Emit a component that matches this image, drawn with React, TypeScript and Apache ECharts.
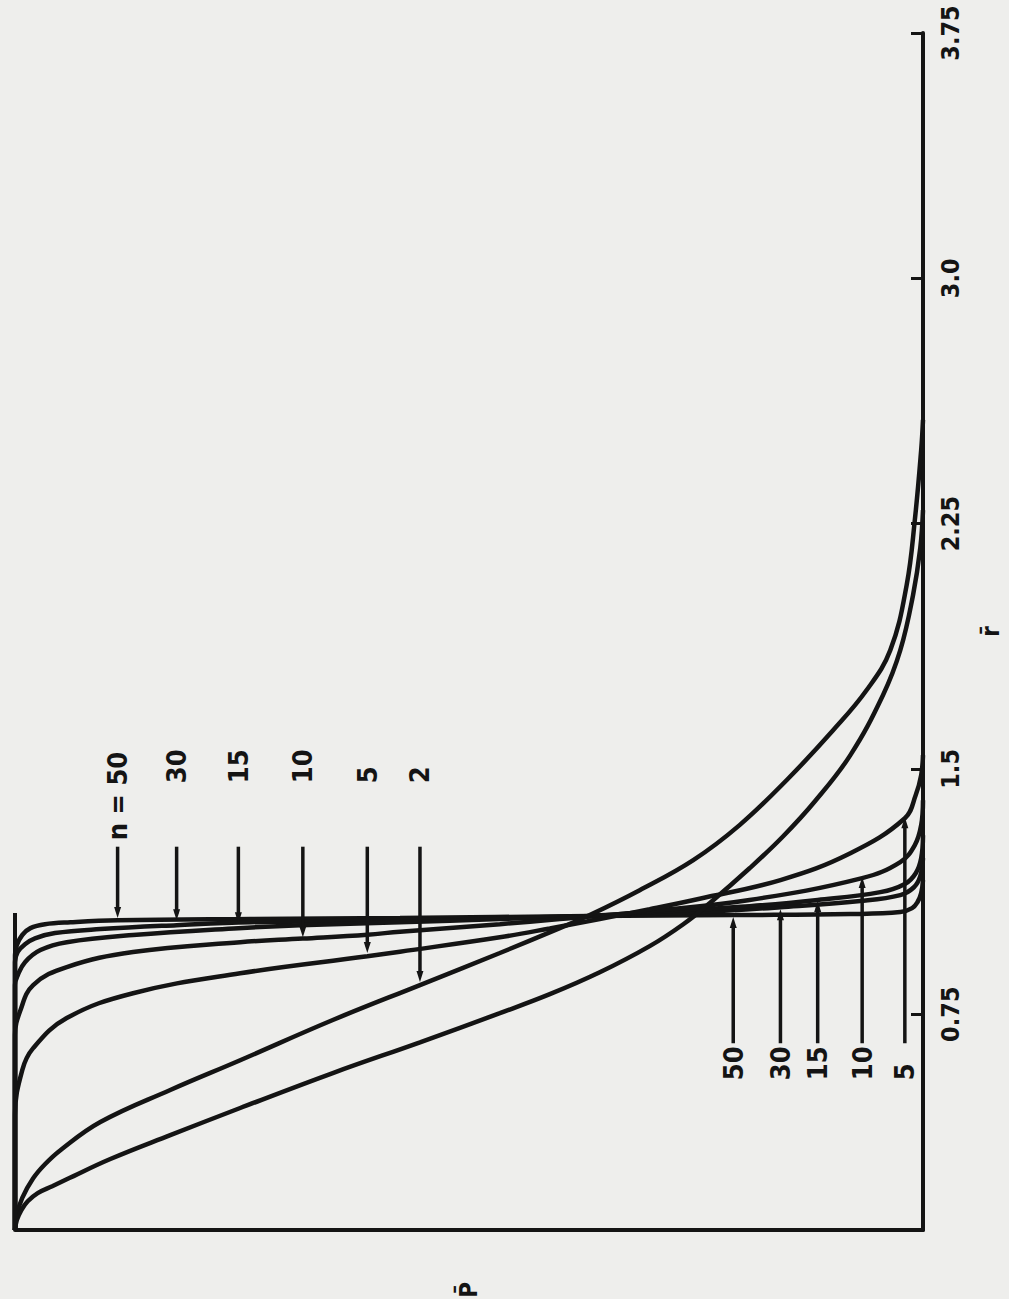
import React, { useEffect, useRef } from "react";
import * as echarts from "echarts";

// ---- axis definitions (r̄ vertical on the right, P̄ horizontal, P̄ = 1 at the left) ----
const rMin = 0.09;
const rMax = 3.75;
const rTicks = [0.75, 1.5, 2.25, 3.0, 3.75];
const rTickLabels = ["0.75", "1.5", "2.25", "3.0", "3.75"];

// ---- curves: [P̄, r̄] pairs ----
const curveN50 = [
  [1, 0.09], [1, 0.93], [0.998, 0.961], [0.992, 0.992], [0.983, 1.013], [0.967, 1.025],
  [0.939, 1.031], [0.887, 1.037], [0.741, 1.041], [0.576, 1.044], [0.367, 1.05],
  [0.207, 1.053], [0.08, 1.056], [0.025, 1.062], [0.012, 1.074], [0.006, 1.093],
  [0.002, 1.12], [0, 1.16],
];
const curveN30 = [
  [1, 0.09], [1, 0.909], [0.997, 0.94], [0.989, 0.964], [0.978, 0.982], [0.956, 0.998],
  [0.906, 1.01], [0.822, 1.022], [0.741, 1.031], [0.576, 1.037], [0.367, 1.05],
  [0.246, 1.062], [0.157, 1.077], [0.069, 1.096], [0.025, 1.114], [0.01, 1.138],
  [0.003, 1.172], [0, 1.227],
];
const curveN15 = [
  [1, 0.09], [1, 0.839], [0.997, 0.869], [0.989, 0.909], [0.972, 0.946], [0.943, 0.97],
  [0.87, 0.992], [0.754, 1.013], [0.686, 1.022], [0.576, 1.031], [0.466, 1.041],
  [0.367, 1.05], [0.301, 1.062], [0.191, 1.08], [0.116, 1.099], [0.047, 1.123],
  [0.02, 1.148], [0.008, 1.181], [0.002, 1.227], [0, 1.297],
];
const curveN10 = [
  [1, 0.09], [1, 0.686], [0.994, 0.762], [0.98, 0.839], [0.943, 0.894], [0.87, 0.94],
  [0.752, 0.97], [0.683, 0.981], [0.612, 0.993], [0.576, 1.002], [0.466, 1.025],
  [0.4, 1.041], [0.301, 1.065], [0.191, 1.099], [0.067, 1.166], [0.025, 1.215],
  [0.009, 1.267], [0.002, 1.328], [0, 1.404],
];
const curveN5 = [
  [1, 0.09], [1, 0.441], [0.992, 0.579], [0.98, 0.646], [0.943, 0.738], [0.87, 0.814],
  [0.752, 0.875], [0.612, 0.927], [0.576, 0.941], [0.466, 0.985], [0.411, 1.012],
  [0.356, 1.041], [0.301, 1.071], [0.246, 1.103], [0.157, 1.16], [0.08, 1.242],
  [0.02, 1.349], [0.008, 1.42], [0.002, 1.481], [0, 1.542],
];
const curveN2 = [
  [1, 0.09], [0.998, 0.136], [0.992, 0.188], [0.98, 0.248], [0.967, 0.291], [0.95, 0.334],
  [0.906, 0.42], [0.829, 0.518], [0.752, 0.609], [0.65, 0.732], [0.554, 0.839],
  [0.466, 0.937], [0.4, 1.013], [0.367, 1.053], [0.312, 1.129], [0.253, 1.221],
  [0.202, 1.328], [0.15, 1.466], [0.099, 1.618], [0.062, 1.741], [0.036, 1.863],
  [0.018, 2.062], [0.009, 2.261], [0.002, 2.475], [0, 2.567],
];
const curveUnlabeled = [
  [1, 0.09], [0.998, 0.12], [0.993, 0.151], [0.986, 0.178], [0.975, 0.203], [0.959, 0.224],
  [0.943, 0.245], [0.895, 0.307], [0.829, 0.38], [0.752, 0.463], [0.65, 0.57], [0.554, 0.664],
  [0.466, 0.753], [0.411, 0.811], [0.356, 0.878], [0.301, 0.958], [0.264, 1.025],
  [0.235, 1.089], [0.191, 1.196], [0.154, 1.294], [0.119, 1.401], [0.08, 1.542],
  [0.044, 1.726], [0.025, 1.863], [0.011, 2.031], [0.003, 2.175], [0, 2.291],
];
const frameStub = [[1, 0.09], [1, 1.059]];

// ---- annotations: labels with arrows pointing at curves ----
const topLabels = ["n = 50", "30", "15", "10", "5", "2"];
const topArrowP = [0.887, 0.822, 0.754, 0.683, 0.612, 0.554];
const topArrowFromR = [1.262, 1.262, 1.262, 1.262, 1.262, 1.262];
const topArrowToR = [1.044, 1.037, 1.028, 0.985, 0.937, 0.848];
const topLabelStartR = [1.282, 1.456, 1.456, 1.456, 1.456, 1.456];

const bottomLabels = ["50", "30", "15", "10", "5"];
const bottomArrowP = [0.209, 0.157, 0.116, 0.067, 0.02];
const bottomArrowFromR = [0.661, 0.661, 0.661, 0.661, 0.661];
const bottomArrowToR = [1.047, 1.071, 1.096, 1.169, 1.352];
const bottomLabelStartR = [0.548, 0.548, 0.548, 0.548, 0.548];

const INK = "#141414";
const FONT = "'Liberation Sans Narrow', 'DejaVu Sans Condensed', 'Liberation Sans', sans-serif";

function makeArrowRenderer(labels: string[]) {
  return (params: any, api: any) => {
    const i = params.dataIndex;
    const p = api.value(0);
    const a = api.coord([p, api.value(1)]);
    const b = api.coord([p, api.value(2)]);
    const l = api.coord([p, api.value(3)]);
    const dir = b[1] > a[1] ? 1 : -1;
    const head = 11;
    const half = 3.5;
    return {
      type: "group",
      children: [
        {
          type: "line",
          shape: { x1: a[0], y1: a[1], x2: b[0], y2: b[1] - dir * head * 0.6 },
          style: { stroke: INK, lineWidth: 3.5 },
        },
        {
          type: "polygon",
          shape: {
            points: [
              [b[0], b[1]],
              [b[0] - half, b[1] - dir * head],
              [b[0] + half, b[1] - dir * head],
            ],
          },
          style: { fill: INK },
        },
        {
          type: "text",
          x: l[0],
          y: l[1],
          rotation: Math.PI / 2,
          style: {
            text: labels[i],
            fill: INK,
            fontSize: 27,
            fontWeight: "bold",
            fontFamily: FONT,
            align: "left",
            verticalAlign: "middle",
          },
        },
      ],
    };
  };
}

function curveSeries(name: string, data: number[][]) {
  return {
    name,
    type: "line",
    data,
    showSymbol: false,
    smooth: 0.4,
    clip: false,
    lineStyle: { color: INK, width: 4.5 },
    z: 3,
  };
}

export default function App() {
  const ref = useRef<HTMLDivElement>(null);

  useEffect(() => {
    if (!ref.current) return;
    const chart = echarts.init(ref.current, undefined, { renderer: "svg" });

    const topData = topArrowP.map((p, i) => [p, topArrowFromR[i], topArrowToR[i], topLabelStartR[i]]);
    const bottomData = bottomArrowP.map((p, i) => [p, bottomArrowFromR[i], bottomArrowToR[i], bottomLabelStartR[i]]);

    chart.setOption({
      animation: false,
      backgroundColor: "#eeeeec",
      grid: {
        left: 15,
        right: 86,
        top: 33,
        bottom: 69,
        containLabel: false,
        outerBoundsMode: "none",
      },
      xAxis: {
        type: "value",
        min: 0,
        max: 1,
        inverse: true,
        axisLine: { show: true, onZero: false, lineStyle: { color: INK, width: 4 } },
        axisTick: { show: false },
        axisLabel: { show: false },
        splitLine: { show: false },
        name: "P\u0304",
        nameLocation: "middle",
        nameGap: 52,
        nameRotate: 90,
        nameTextStyle: { color: INK, fontSize: 24, fontWeight: "bold", fontFamily: FONT },
      },
      yAxis: {
        type: "value",
        position: "right",
        min: rMin,
        max: rMax,
        axisLine: { show: true, onZero: false, lineStyle: { color: INK, width: 4 } },
        axisTick: {
          show: true,
          inside: true,
          length: 12,
          customValues: rTicks,
          lineStyle: { color: INK, width: 3 },
        },
        axisLabel: {
          show: true,
          customValues: rTicks,
          rotate: 90,
          margin: 15,
          color: INK,
          fontSize: 25,
          fontWeight: "bold",
          fontFamily: FONT,
          formatter: (v: number) => {
            const k = rTicks.findIndex((t) => Math.abs(t - v) < 1e-6);
            return k >= 0 ? rTickLabels[k] : "";
          },
        },
        splitLine: { show: false },
        name: "r\u0304",
        nameLocation: "middle",
        nameGap: 56,
        nameRotate: 90,
        nameTextStyle: { color: INK, fontSize: 24, fontWeight: "bold", fontFamily: FONT },
      },
      series: [
        curveSeries("n = 50", curveN50),
        curveSeries("n = 30", curveN30),
        curveSeries("n = 15", curveN15),
        curveSeries("n = 10", curveN10),
        curveSeries("n = 5", curveN5),
        curveSeries("n = 2", curveN2),
        curveSeries("unlabeled", curveUnlabeled),
        {
          name: "frame",
          type: "line",
          data: frameStub,
          showSymbol: false,
          lineStyle: { color: INK, width: 4 },
          z: 3,
        },
        {
          name: "top labels",
          type: "custom",
          coordinateSystem: "cartesian2d",
          clip: false,
          data: topData,
          renderItem: makeArrowRenderer(topLabels),
          z: 4,
        },
        {
          name: "bottom labels",
          type: "custom",
          coordinateSystem: "cartesian2d",
          clip: false,
          data: bottomData,
          renderItem: makeArrowRenderer(bottomLabels),
          z: 4,
        },
      ],
    });

    return () => chart.dispose();
  }, []);

  return (
    <div
      ref={ref}
      style={{ position: "absolute", left: 0, top: 0, width: 1009, height: 1299 }}
    />
  );
}
